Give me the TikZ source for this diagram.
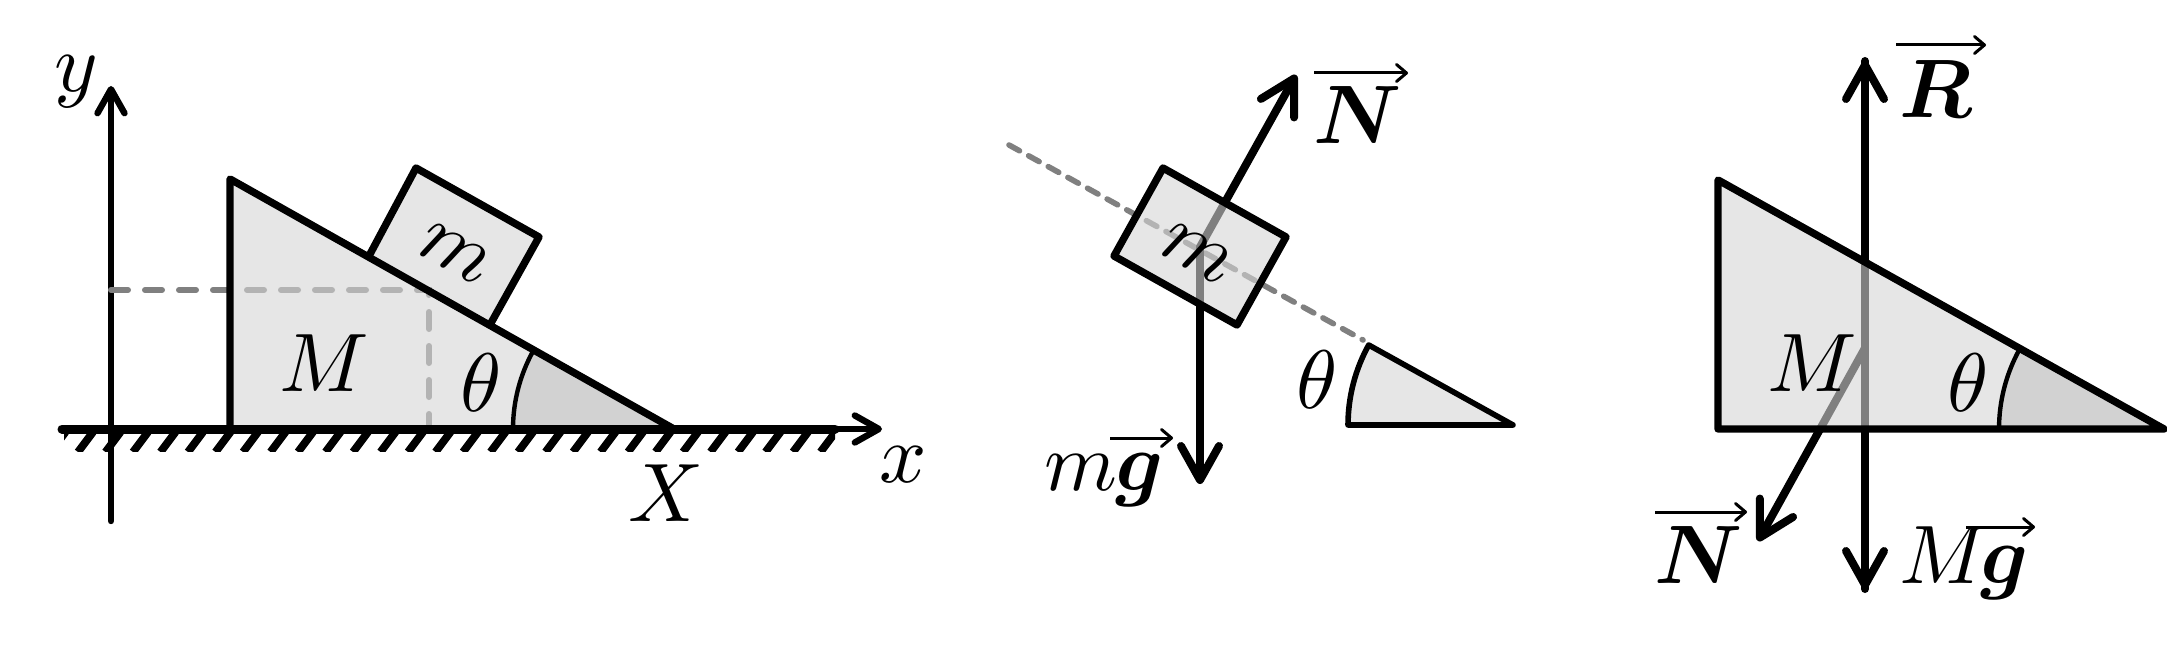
\documentclass[tikz,border=0pt]{standalone}
\usepackage{amsmath,amssymb}
\usetikzlibrary{arrows.meta}
\definecolor{wedgefill}{HTML}{D5D5D5}
\definecolor{darkfill}{HTML}{D2D2D2}
\definecolor{dashgray}{HTML}{808080}
\tikzset{
  lab/.style={scale=4.15,inner sep=0pt,outer sep=0pt},
  baselab/.style={lab,anchor=base},
  solid fill/.style={fill=wedgefill,fill opacity=0.6,draw=none},
  outline/.style={draw=black,line width=3.7pt,line join=round,line cap=round},
  thinarc/.style={draw=black,line width=2.2pt},
  dashline/.style={draw=dashgray,line width=3pt,line cap=round,dash pattern=on 8.5pt off 8.5pt},
  dashlineb/.style={draw=dashgray,line width=2.8pt,line cap=round,dash pattern=on 6pt off 5.2pt},
  smallhead/.style={line width=3.2pt,line cap=round,-{Straight Barb[length=12pt,width=13.5pt,round]}},
  bighead/.style={line width=4pt,line cap=round,-{Straight Barb[length=17pt,width=19pt,round]}},
  vecbar/.style={line width=1.5pt,-{Straight Barb[length=5pt,width=8.5pt,round]}},
}
\begin{document}
\begin{tikzpicture}[x=0.5pt,y=-0.5pt]
\useasboundingbox (0,0) rectangle (2167,663);
% ---------- panel 1
\coordinate (yb) at (111,521); \coordinate (yt) at (111,86);
\coordinate (gl) at (62,429); \coordinate (gr) at (835,429); \coordinate (xt) at (882,429);
\coordinate (A) at (230,179); \coordinate (B) at (230,429); \coordinate (C) at (674,429);
\coordinate (a2) at (513,429);
\coordinate (p0) at (111,290); \coordinate (p1) at (429,290); \coordinate (p2) at (429,429);
\coordinate (m1) at (416,168); \coordinate (m2) at (539,237); \coordinate (m3) at (491,323); \coordinate (m4) at (369,256);
\draw[smallhead] (yb) -- (yt);
\begin{scope}
\clip (64,433) rectangle (835,451);
\foreach \i in {-1,...,28}{
  \draw[line width=3.9pt] ({78+27.5*\i},452) -- ({93+27.5*\i},432);
}
\end{scope}
\draw[dashline] (p0) -- (p1) -- (p2);
\path[solid fill] (A) -- (B) -- (C) -- cycle;
\path[solid fill] (m1) -- (m2) -- (m3) -- (m4) -- cycle;
\fill[darkfill] (C) -- (a2) arc[start angle=180,end angle=209,radius=161] -- cycle;
\draw[thinarc] (a2) arc[start angle=180,end angle=209,radius=161];
\draw[outline] (m4) -- (m1) -- (m2) -- (m3);
\draw[outline] (B) -- (A) -- (C);
\draw[line width=4.5pt,line cap=round] (gl) -- (gr);
\draw[smallhead] (gr) -- (xt);
\node[baselab] (ylab) at (76,92) {$y$};
\node[baselab] (xlab) at (903,482) {$x$};
\node[baselab] (Xlab) at (666,521) {$X$};
\node[baselab] (Mlab) at (324,391) {$M$};
\node[baselab] (thlab) at (481,411) {$\theta$};
\node[lab,rotate=-29] (mlab) at (455,254) {$m$};
% ---------- panel 2
\coordinate (c2) at (1200,247);
\coordinate (Nt) at (1296,75); \coordinate (gt) at (1200,484);
\coordinate (d1) at (1009,145); \coordinate (d2) at (1363,340);
\coordinate (b1) at (1163,168); \coordinate (b2) at (1286,237); \coordinate (b3) at (1237,325); \coordinate (b4) at (1114,256);
\coordinate (t1) at (1369,345); \coordinate (t2) at (1513,425); \coordinate (t3) at (1348,425);
\coordinate (v1a) at (1314,73); \coordinate (v1b) at (1408,73);
\coordinate (v2a) at (1110,438); \coordinate (v2b) at (1173,438);
\draw[dashlineb] (d1) -- (d2);
\draw[bighead] (c2) -- (Nt);
\draw[bighead] (c2) -- (gt);
\path[solid fill] (b1) -- (b2) -- (b3) -- (b4) -- cycle;
\draw[outline] (b1) -- (b2) -- (b3) -- (b4) -- cycle;
\path[solid fill] (t3) arc[start angle=180,end angle=209,radius=165] -- (t2) -- cycle;
\draw[outline,line width=2.8pt] (t3) arc[start angle=180,end angle=209,radius=165] -- (t2) -- cycle;
\node[lab,rotate=-29] (mlabb) at (1197,254) {$m$};
\node[baselab] (Nlab) at (1358,144) {$\boldsymbol{N}$};
\node[baselab] (mglab) at (1104,490) {$m\mkern-0.5mu\boldsymbol{g}$};
\node[baselab] (thlabb) at (1317,408) {$\theta$};
\draw[vecbar] (v1a) -- (v1b);
\draw[vecbar] (v2a) -- (v2b);
% ---------- panel 3
\coordinate (c3) at (1865,348);
\coordinate (Rt) at (1865,61); \coordinate (Gb) at (1865,589); \coordinate (Nb) at (1758,541);
\coordinate (D) at (1718,180); \coordinate (E) at (1718,429); \coordinate (F) at (2164,429);
\coordinate (f2) at (1999,429);
\coordinate (v3a) at (1896,45); \coordinate (v3b) at (1986,45);
\coordinate (v4a) at (1655,512); \coordinate (v4b) at (1747,512);
\coordinate (v5a) at (1966,527); \coordinate (v5b) at (2035,527);
\draw[bighead] (Gb) -- (Rt);
\draw[bighead] (Rt) -- (Gb);
\draw[bighead] (c3) -- (Nb);
\path[solid fill] (D) -- (E) -- (F) -- cycle;
\fill[darkfill] (F) -- (f2) arc[start angle=180,end angle=209,radius=165] -- cycle;
\draw[thinarc] (f2) arc[start angle=180,end angle=209,radius=165];
\draw[outline] (D) -- (E) -- (F) -- cycle;
\node[baselab] (Rlab) at (1936,118) {$\boldsymbol{R}$};
\node[baselab] (Nlabb) at (1699,583) {$\boldsymbol{N}$};
\node[baselab] (Mglab) at (1964,583) {$M\mkern-2mu\boldsymbol{g}$};
\node[baselab] (Mlabb) at (1812,391) {$M$};
\node[baselab] (thlabc) at (1968,411) {$\theta$};
\draw[vecbar] (v3a) -- (v3b);
\draw[vecbar] (v4a) -- (v4b);
\draw[vecbar] (v5a) -- (v5b);
\end{tikzpicture}
\end{document}
